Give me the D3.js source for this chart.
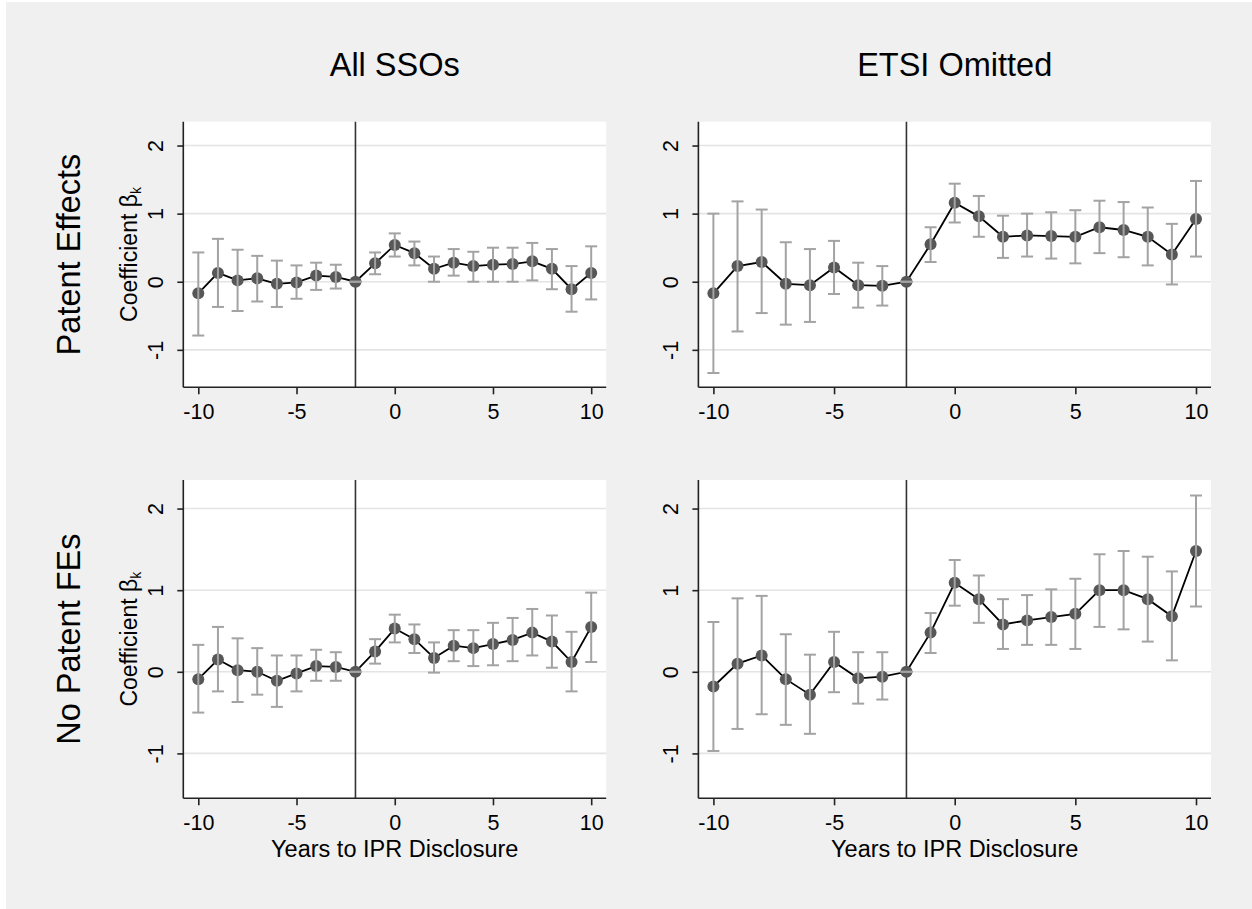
<!DOCTYPE html>
<html>
<head>
<meta charset="utf-8">
<script src="https://cdn.jsdelivr.net/npm/d3@7"></script>
<style>
  html, body { margin: 0; padding: 0; background: #ffffff; }
  svg { display: block; }
  text { font-family: "Liberation Sans", Arial, sans-serif; fill: #000; }
</style>
</head>
<body>
<svg id="chart" width="1252" height="909"></svg>
<script>
// ---------------- DATA ----------------
const years = [-10, -9, -8, -7, -6, -5, -4, -3, -2, -1, 0, 1, 2, 3, 4, 5, 6, 7, 8, 9, 10];
const xTicks = [-10, -5, 0, 5, 10];
const yTicks = [-1, 0, 1, 2];
const referenceYear = -2;

const columnTitles = ["All SSOs", "ETSI Omitted"];
const rowTitles = ["Patent Effects", "No Patent FEs"];
const xAxisTitle = "Years to IPR Disclosure";

// Patent Effects, All SSOs
const coefPatentAll = [-0.17, 0.13, 0.02, 0.05, -0.03, -0.01, 0.09, 0.07, 0, 0.27, 0.54, 0.42, 0.19, 0.28, 0.23, 0.25, 0.26, 0.30, 0.19, -0.11, 0.13];
const hiPatentAll   = [0.43, 0.63, 0.47, 0.38, 0.31, 0.24, 0.28, 0.25, 0, 0.43, 0.71, 0.59, 0.37, 0.48, 0.44, 0.50, 0.50, 0.57, 0.48, 0.23, 0.52];
const loPatentAll   = [-0.79, -0.37, -0.43, -0.29, -0.37, -0.25, -0.12, -0.10, 0, 0.11, 0.37, 0.24, 0.00, 0.09, 0.00, 0.00, 0.00, 0.02, -0.11, -0.44, -0.26];

// Patent Effects, ETSI Omitted
const coefPatentEtsi = [-0.17, 0.23, 0.29, -0.03, -0.05, 0.21, -0.05, -0.06, 0, 0.55, 1.16, 0.96, 0.66, 0.68, 0.67, 0.66, 0.80, 0.76, 0.66, 0.40, 0.92];
const hiPatentEtsi   = [1.00, 1.18, 1.06, 0.58, 0.48, 0.60, 0.28, 0.23, 0, 0.80, 1.44, 1.26, 0.97, 1.00, 1.02, 1.05, 1.19, 1.17, 1.09, 0.85, 1.48];
const loPatentEtsi   = [-1.34, -0.73, -0.46, -0.63, -0.59, -0.18, -0.38, -0.35, 0, 0.29, 0.87, 0.66, 0.35, 0.37, 0.34, 0.27, 0.42, 0.36, 0.24, -0.04, 0.37];

// No Patent FEs, All SSOs
const coefNoFeAll = [-0.09, 0.15, 0.02, 0.00, -0.11, -0.02, 0.07, 0.06, 0, 0.25, 0.53, 0.40, 0.17, 0.32, 0.29, 0.34, 0.39, 0.48, 0.37, 0.12, 0.55];
const hiNoFeAll   = [0.33, 0.55, 0.41, 0.29, 0.20, 0.20, 0.27, 0.24, 0, 0.40, 0.70, 0.58, 0.36, 0.51, 0.51, 0.60, 0.66, 0.77, 0.69, 0.49, 0.97];
const loNoFeAll   = [-0.50, -0.24, -0.37, -0.28, -0.43, -0.24, -0.11, -0.11, 0, 0.10, 0.36, 0.23, -0.01, 0.13, 0.07, 0.08, 0.13, 0.20, 0.05, -0.24, 0.12];

// No Patent FEs, ETSI Omitted
const coefNoFeEtsi = [-0.18, 0.10, 0.20, -0.09, -0.28, 0.12, -0.08, -0.06, 0, 0.48, 1.09, 0.89, 0.58, 0.63, 0.67, 0.71, 1.00, 1.00, 0.89, 0.68, 1.48];
const hiNoFeEtsi   = [0.61, 0.90, 0.93, 0.46, 0.21, 0.49, 0.24, 0.24, 0, 0.72, 1.37, 1.18, 0.89, 0.94, 1.01, 1.14, 1.44, 1.48, 1.41, 1.23, 2.16];
const loNoFeEtsi   = [-0.97, -0.70, -0.52, -0.65, -0.76, -0.25, -0.39, -0.34, 0, 0.23, 0.81, 0.60, 0.28, 0.33, 0.33, 0.28, 0.55, 0.52, 0.37, 0.14, 0.80];

// ---------------- LAYOUT ----------------
const svg = d3.select("#chart");
const W = 1252, H = 909;

svg.append("rect").attr("x", 6).attr("y", 2).attr("width", W - 6).attr("height", H - 2).attr("fill", "#f0f0f0");

const colBoxes = [{ left: 183.3, right: 606.2 }, { left: 698.4, right: 1211 }];
const rowBoxes = [{ top: 121.7, bottom: 387.3 }, { top: 480, bottom: 798.3 }];
const xPad = 15;
const yDomain = [-1.55, 2.35];

const panels = [
  { row: 0, col: 0, coef: coefPatentAll, lo: loPatentAll, hi: hiPatentAll },
  { row: 0, col: 1, coef: coefPatentEtsi, lo: loPatentEtsi, hi: hiPatentEtsi },
  { row: 1, col: 0, coef: coefNoFeAll, lo: loNoFeAll, hi: hiNoFeAll },
  { row: 1, col: 1, coef: coefNoFeEtsi, lo: loNoFeEtsi, hi: hiNoFeEtsi }
];

const axisColor = "#222";
const gridColor = "#e4e4e4";
const ciColor = "#a3a3a3";
const dotColor = "#575757";
const fmt = d => String(d); // plain hyphen-minus as in the reference

panels.forEach(p => {
  const cb = colBoxes[p.col], rb = rowBoxes[p.row];
  const x = d3.scaleLinear().domain([-10, 10]).range([cb.left + xPad, cb.right - xPad]);
  const y = d3.scaleLinear().domain(yDomain).range([rb.bottom, rb.top]);
  const g = svg.append("g");

  // plot region
  g.append("rect")
    .attr("x", cb.left).attr("y", rb.top)
    .attr("width", cb.right - cb.left).attr("height", rb.bottom - rb.top)
    .attr("fill", "#ffffff");

  // gridlines
  g.selectAll(".grid").data(yTicks).enter().append("line")
    .attr("x1", cb.left).attr("x2", cb.right)
    .attr("y1", d => y(d)).attr("y2", d => y(d))
    .attr("stroke", gridColor).attr("stroke-width", 1.6);

  // reference vertical line
  g.append("line")
    .attr("x1", x(referenceYear)).attr("x2", x(referenceYear))
    .attr("y1", rb.top).attr("y2", rb.bottom)
    .attr("stroke", "#333").attr("stroke-width", 1.6);

  // y axis
  const yAxis = d3.axisLeft(y).tickValues(yTicks).tickSize(6).tickPadding(14).tickFormat(fmt);
  const ya = g.append("g").attr("transform", `translate(${cb.left},0)`).call(yAxis);
  ya.select(".domain").attr("d", `M0,${rb.top}V${rb.bottom}`).attr("stroke", axisColor).attr("stroke-width", 1.6);
  ya.selectAll(".tick line").attr("stroke", axisColor).attr("stroke-width", 1.6);
  ya.selectAll(".tick text")
    .attr("font-size", 21.5).attr("fill", "#000")
    .attr("text-anchor", "middle").attr("dy", null)
    .attr("x", null)
    .attr("transform", "translate(-20,0) rotate(-90)");

  // x axis
  const xAxis = d3.axisBottom(x).tickValues(xTicks).tickSize(7).tickPadding(9).tickFormat(fmt);
  const xa = g.append("g").attr("transform", `translate(0,${rb.bottom})`).call(xAxis);
  xa.select(".domain").attr("d", `M${cb.left},0H${cb.right}`).attr("stroke", axisColor).attr("stroke-width", 1.6);
  xa.selectAll(".tick line").attr("stroke", axisColor).attr("stroke-width", 1.6);
  xa.selectAll(".tick text").attr("font-size", 21.5).attr("fill", "#000");

  const pts = years.map((k, i) => ({ k, b: p.coef[i], lo: p.lo[i], hi: p.hi[i] }));

  // connecting line
  g.append("path").datum(pts)
    .attr("d", d3.line().x(d => x(d.k)).y(d => y(d.b)))
    .attr("fill", "none").attr("stroke", "#000").attr("stroke-width", 1.8);

  // markers
  g.selectAll(".dot").data(pts).enter().append("circle")
    .attr("cx", d => x(d.k)).attr("cy", d => y(d.b)).attr("r", 6)
    .attr("fill", dotColor);

  // confidence interval caps
  const capW = 6;
  const ci = g.selectAll(".ci").data(pts).enter().append("g");
  ci.append("line")
    .attr("x1", d => x(d.k)).attr("x2", d => x(d.k))
    .attr("y1", d => y(d.lo)).attr("y2", d => y(d.hi))
    .attr("stroke", ciColor).attr("stroke-width", 2);
  ci.append("line")
    .attr("x1", d => x(d.k) - capW).attr("x2", d => x(d.k) + capW)
    .attr("y1", d => y(d.hi)).attr("y2", d => y(d.hi))
    .attr("stroke", ciColor).attr("stroke-width", 2);
  ci.append("line")
    .attr("x1", d => x(d.k) - capW).attr("x2", d => x(d.k) + capW)
    .attr("y1", d => y(d.lo)).attr("y2", d => y(d.lo))
    .attr("stroke", ciColor).attr("stroke-width", 2);

  // y title for left column
  if (p.col === 0) {
    const cy = (rb.top + rb.bottom) / 2;
    const t = svg.append("text")
      .attr("transform", `translate(136.5,${cy}) rotate(-90)`)
      .attr("text-anchor", "middle").attr("font-size", 23);
    t.append("tspan").text("Coefficient ");
    t.append("tspan").text("β");
    t.append("tspan").attr("font-size", 14).attr("dy", 4).text("k");
  }
  // x title for bottom row
  if (p.row === 1) {
    svg.append("text")
      .attr("x", (cb.left + cb.right) / 2).attr("y", 857)
      .attr("text-anchor", "middle").attr("font-size", 23.5)
      .text(xAxisTitle);
  }
});

// column titles
colBoxes.forEach((cb, i) => {
  svg.append("text")
    .attr("x", (cb.left + cb.right) / 2).attr("y", 76)
    .attr("text-anchor", "middle").attr("font-size", 32.5)
    .text(columnTitles[i]);
});

// row titles
rowBoxes.forEach((rb, i) => {
  svg.append("text")
    .attr("transform", `translate(80,${(rb.top + rb.bottom) / 2}) rotate(-90)`)
    .attr("text-anchor", "middle").attr("font-size", 32.5)
    .text(rowTitles[i]);
});
</script>
</body>
</html>
